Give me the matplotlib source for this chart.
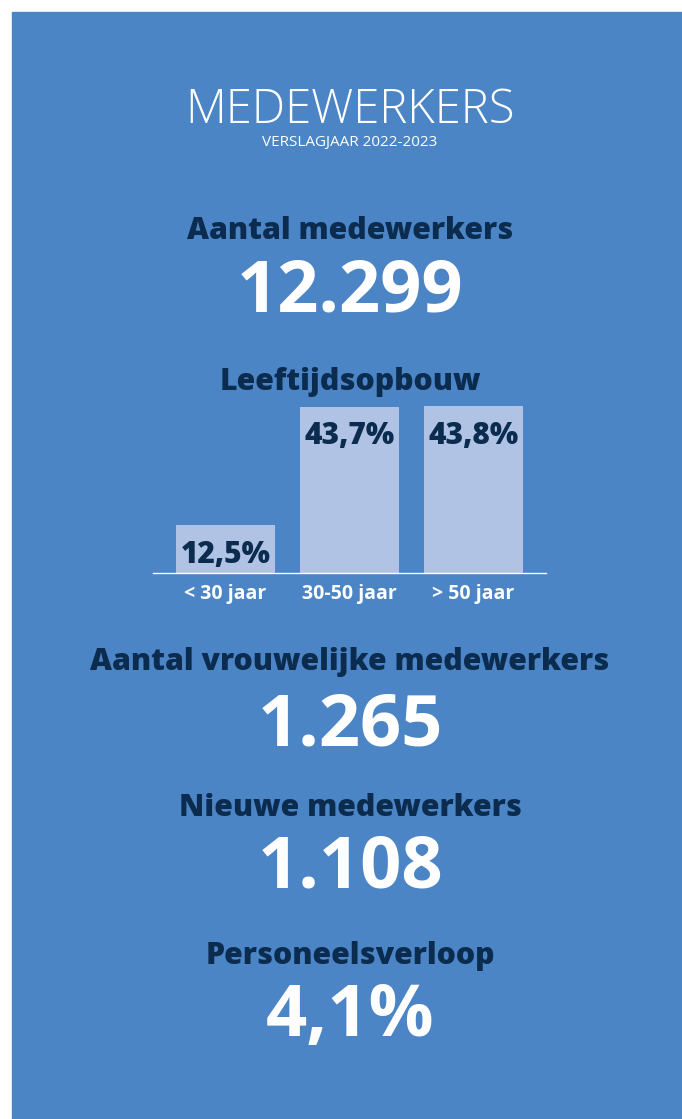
import numpy as np
import matplotlib
matplotlib.use('Agg')
import matplotlib.pyplot as plt
from matplotlib.patches import Rectangle

# data
titel = 'MEDEWERKERS'
subtitel = 'VERSLAGJAAR 2022-2023'
kpi_labels = ['Aantal medewerkers', 'Aantal vrouwelijke medewerkers',
              'Nieuwe medewerkers', 'Personeelsverloop']
kpi_values = ['12.299', '1.265', '1.108', '4,1%']
leeftijd_titel = 'Leeftijdsopbouw'
leeftijd_cats = ['< 30 jaar', '30-50 jaar', '> 50 jaar']
leeftijd_pct = [12.5, 43.7, 43.8]

blauw = '#4b85c5'
navy = '#0b2c4f'
balk = '#b1c3e4'

W, H = 682, 1119
plt.rcParams['font.family'] = ['Open Sans', 'DejaVu Sans']

fig = plt.figure(figsize=(W / 100, H / 100), dpi=100)
fig.patch.set_facecolor('white')
fig.patches.append(Rectangle((12 / W, 0), 1 - 12 / W, 1 - 12 / H,
                             transform=fig.transFigure, color=blauw, zorder=-5))

def fy(y):
    return 1 - y / H

cx = 350 / W

# kop
fig.text(cx, fy(123), titel, ha='center', va='baseline', color='white',
         fontsize=34, fontweight='light')
fig.text(cx, fy(146), subtitel, ha='center', va='baseline', color='white',
         fontsize=11)

# kpi blokken: (baseline kop, baseline getal)
posities = [(239, 312), (670, 745), (816, 888), (964, 1036)]
for (yl, yv), lab, val in zip(posities, kpi_labels, kpi_values):
    fig.text(cx, fy(yl), lab, ha='center', va='baseline', color=navy,
             fontsize=21.8, fontweight='heavy')
    fig.text(cx, fy(yv), val, ha='center', va='baseline', color='white',
             fontsize=52, fontweight='bold')

fig.text(cx, fy(390), leeftijd_titel, ha='center', va='baseline', color=navy,
         fontsize=21.8, fontweight='heavy')

# staafdiagram leeftijd
ax_l, ax_r, ax_b = 153, 546, 573
ymax = 45
ax_t = ax_b - ymax * 3.81
ax = fig.add_axes([ax_l / W, fy(ax_b), (ax_r - ax_l) / W, (ax_b - ax_t) / H])
ax.set_facecolor('none')
x = np.arange(len(leeftijd_cats))
bars = ax.bar(x, leeftijd_pct, width=0.8, color=balk)
ax.set_xlim(-0.585, 2.585)
ax.set_ylim(0, ymax)
for s in ['top', 'left', 'right']:
    ax.spines[s].set_visible(False)
ax.spines['bottom'].set_color('white')
ax.spines['bottom'].set_linewidth(1)
ax.set_yticks([])
ax.set_xticks(x)
ax.set_xticklabels(leeftijd_cats, color='white', fontsize=14, fontweight='bold')
ax.tick_params(axis='x', length=0, pad=8)
for b, v in zip(bars, leeftijd_pct):
    ax.annotate(f'{v:.1f}%'.replace('.', ','), (b.get_x() + b.get_width() / 2, v),
                xytext=(0, -10.5), textcoords='offset points', ha='center', va='top',
                color=navy, fontsize=21.5, fontweight='heavy')

fig.savefig('out.png', dpi=100, facecolor='white')
